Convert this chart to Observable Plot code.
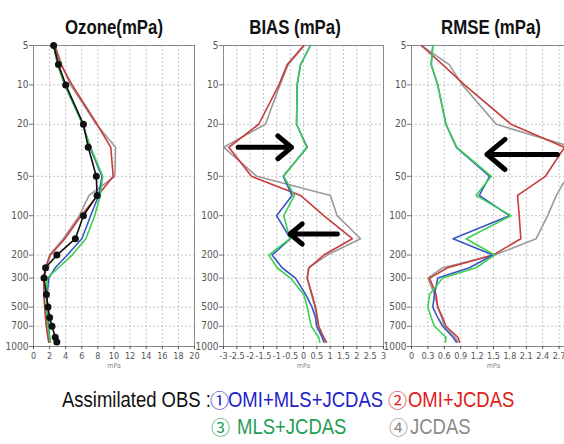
<!DOCTYPE html>
<html>
<head>
<meta charset="utf-8">
<script src="https://cdn.jsdelivr.net/npm/d3@7"></script>
<script src="https://cdn.jsdelivr.net/npm/@observablehq/plot@0.6"></script>
<style>
  html, body { margin: 0; padding: 0; background: #fff; overflow: hidden; }
  #wrap { position: relative; width: 564px; height: 444px; overflow: hidden; background: #fff; }
  .panel { position: absolute; top: 0; }
  .panel svg { max-width: none !important; overflow: visible; }
  .title { position: absolute; top: 17px; font: bold 20px/20px "Liberation Sans", Arial, sans-serif; color: #111; white-space: nowrap; transform: translateX(-50%) scaleX(0.84); transform-origin: center; }
  .leg { position: absolute; font: 22px/22px "Liberation Sans", Arial, sans-serif; white-space: nowrap; transform: scaleX(0.84); transform-origin: left center; }
  .circ { position: absolute; font: 19px/22px "Noto Sans CJK JP", "DejaVu Sans", sans-serif; white-space: nowrap; }
</style>
</head>
<body>
<div id="wrap"></div>
<script>
// ---------- data ----------
const levels = [5, 7, 10, 20, 30, 50, 70, 100, 150, 200, 250, 300, 400, 500, 600, 700, 850, 925];
const pressureTicks = [5, 10, 20, 50, 100, 200, 300, 500, 700, 1000];

const ozoneTicks = [0, 2, 4, 6, 8, 10, 12, 14, 16, 18, 20];
const biasTicks = [-3, -2.5, -2, -1.5, -1, -0.5, 0, 0.5, 1, 1.5, 2, 2.5, 3];
const rmseTicks = [0, 0.3, 0.6, 0.9, 1.2, 1.5, 1.8, 2.1, 2.4, 2.7, 3];

const seriesNames = ["JCDAS", "OMI+JCDAS", "OMI+MLS+JCDAS", "MLS+JCDAS"];
const seriesColors = ["#9a9a9a", "#c83c3c", "#3a56c8", "#3ccf50"];

// Ozone partial pressure (mPa)
const ozoneObs    = [2.5, 3.1, 4.0, 6.2, 6.8, 7.8, 7.9, 6.2, 5.2, 2.9, 1.5, 1.3, 1.6, 1.8, 2.0, 2.3, 2.7, 2.9];
const ozoneOmiMls = [2.5, 3.0, 3.9, 6.1, 7.0, 8.5, 8.1, 7.1, 6.0, 4.2, 2.7, 1.9, 1.7, 1.7, 1.8, 1.9, 2.0, 2.1];
const ozoneOmi    = [2.6, 3.4, 4.8, 7.9, 9.6, 9.9, 8.0, 5.9, 3.9, 2.1, 1.5, 1.3, 1.3, 1.4, 1.5, 1.6, 1.8, 1.9];
const ozoneMls    = [2.5, 3.0, 3.9, 6.1, 7.1, 8.6, 8.3, 7.6, 6.5, 4.8, 3.1, 1.7, 1.6, 1.6, 1.7, 1.8, 2.0, 2.1];
const ozoneJcdas  = [2.7, 3.5, 4.6, 7.8, 10.2, 10.1, 6.9, 5.7, 3.7, 2.0, 1.5, 1.3, 1.3, 1.4, 1.5, 1.6, 1.8, 1.9];

// BIAS (mPa)
const biasOmiMls = [0.26, -0.11, -0.24, -0.26, 0.14, -0.76, -0.43, -1.01, -0.49, -1.18, -0.80, -0.30, 0.08, 0.32, 0.45, 0.49, 0.70, 0.76];
const biasOmi    = [0.01, -0.61, -0.92, -1.68, -2.80, -1.95, -0.11, 0.76, 1.83, 0.76, 0.20, 0.14, 0.32, 0.45, 0.52, 0.57, 0.76, 0.86];
const biasMls    = [0.26, -0.11, -0.24, -0.26, 0.12, -0.74, -0.34, -0.74, -0.51, -1.30, -0.99, -0.49, 0.01, 0.14, 0.22, 0.29, 0.57, 0.61];
const biasJcdas  = [0.03, -0.58, -0.88, -1.43, -2.99, -1.75, 1.01, 1.26, 2.14, 0.89, 0.20, 0.14, 0.30, 0.43, 0.50, 0.55, 0.74, 0.83];

// RMSE (mPa)
const rmseOmiMls = [0.39, 0.36, 0.48, 0.63, 0.82, 1.43, 1.24, 1.79, 0.76, 1.49, 1.06, 0.48, 0.42, 0.39, 0.48, 0.57, 0.76, 0.82];
const rmseOmi    = [0.18, 0.57, 0.97, 1.82, 2.80, 2.45, 1.94, 1.97, 2.00, 1.49, 0.66, 0.33, 0.45, 0.48, 0.57, 0.63, 0.85, 0.88];
const rmseMls    = [0.39, 0.36, 0.48, 0.63, 0.83, 1.46, 1.18, 1.82, 1.00, 1.52, 1.18, 0.57, 0.33, 0.30, 0.36, 0.42, 0.63, 0.62];
const rmseJcdas  = [0.18, 0.69, 0.93, 1.55, 2.95, 2.85, 2.65, 2.49, 2.28, 1.52, 0.57, 0.30, 0.42, 0.48, 0.55, 0.60, 0.80, 0.85];

// annotation arrows (data units: value, hPa)
const biasArrows = [
  {x1: -2.45, x2: -0.45, p: 30},
  {x1: 1.27, x2: -0.50, p: 138}
];
const rmseArrows = [
  {x1: 2.67, x2: 1.38, p: 34}
];

const titles = ["Ozone(mPa)", "BIAS (mPa)", "RMSE (mPa)"];
const legendMarks = ["①", "②", "③", "④"];
const legendLabels = ["OMI+MLS+JCDAS", "OMI+JCDAS", "MLS+JCDAS", "JCDAS"];
const legendColors = ["#1f22c8", "#e0201a", "#1e9e55", "#8a8a8a"];

// ---------- helpers ----------
function toRows(arrays) {
  return arrays.flatMap((arr, i) => arr.map((v, j) => ({s: seriesNames[i], v, p: levels[j]})));
}

const font = "'DejaVu Sans Condensed', 'DejaVu Sans', sans-serif";

function panel({xDomain, xTicks, rows, width, marginRight, obs, arrows}) {
  const marginLeft = 33;
  const frameW = width - marginLeft - marginRight;
  const marks = [
    Plot.gridX(xTicks, {stroke: "#c4c4c4", strokeOpacity: 1, strokeDasharray: "2,2"}),
    Plot.ruleY(pressureTicks, {y: d => d, stroke: "#c4c4c4", strokeDasharray: "2,2"}),
    Plot.frame({stroke: "#8a8a8a"}),
    Plot.ruleY(pressureTicks, {y: d => d, stroke: "#777", insetLeft: -4, insetRight: frameW}),
    Plot.text(pressureTicks, {y: d => d, text: d => String(d), frameAnchor: "left", textAnchor: "end", dx: -5, fontSize: 10, fill: "#555"}),
    Plot.axisX(xTicks, {tickFormat: d => String(d), tickSize: 3, tickPadding: 3, fontSize: 9, color: "#555", label: null}),
    Plot.text(["mPa"], {text: d => d, frameAnchor: "bottom", dy: 21, fontSize: 7, fill: "#888"}),
    Plot.line(rows, {x: "v", y: "p", z: "s", stroke: "s", strokeWidth: 1.6})
  ];
  if (obs) {
    const obsRows = obs.map((v, j) => ({v, p: levels[j]}));
    marks.push(Plot.line(obsRows, {x: "v", y: "p", stroke: "#111", strokeWidth: 1.6}));
    marks.push(Plot.dot(obsRows, {x: "v", y: "p", r: 3.5, fill: "#111", stroke: "none"}));
  }
  if (arrows) {
    marks.push(Plot.arrow(arrows, {x1: "x1", x2: "x2", y1: "p", y2: "p", stroke: "#000", strokeWidth: 5, headLength: 13, headAngle: 80}));
  }
  return Plot.plot({
    width, height: 375,
    marginTop: 45, marginBottom: 29, marginLeft, marginRight,
    style: {background: "transparent", fontFamily: font, overflow: "visible"},
    x: {domain: xDomain, axis: null},
    y: {type: "log", domain: [5, 1000], reverse: true, axis: null},
    color: {domain: seriesNames, range: seriesColors},
    marks
  });
}

const wrap = document.getElementById("wrap");

const panels = [
  {left: 0, opts: {xDomain: [0, 20], xTicks: ozoneTicks, width: 206, marginRight: 12,
    rows: toRows([ozoneJcdas, ozoneOmi, ozoneOmiMls, ozoneMls]), obs: ozoneObs}},
  {left: 190, opts: {xDomain: [-3, 3], xTicks: biasTicks, width: 205, marginRight: 12,
    rows: toRows([biasJcdas, biasOmi, biasOmiMls, biasMls]), arrows: biasArrows}},
  {left: 378, opts: {xDomain: [0, 3], xTicks: rmseTicks, width: 197, marginRight: 0,
    rows: toRows([rmseJcdas, rmseOmi, rmseOmiMls, rmseMls]), arrows: rmseArrows}}
];

panels.forEach(({left, opts}) => {
  const d = document.createElement("div");
  d.className = "panel";
  d.style.left = left + "px";
  d.appendChild(panel(opts));
  wrap.appendChild(d);
});

// titles
const titleCenters = [114, 295, 491];
titles.forEach((t, i) => {
  const d = document.createElement("div");
  d.className = "title";
  d.style.left = titleCenters[i] + "px";
  d.textContent = t;
  wrap.appendChild(d);
});

// legend
function legPiece(text, color, left, top, cls) {
  const d = document.createElement("div");
  d.className = cls;
  d.style.left = left + "px";
  d.style.top = top + "px";
  d.style.color = color;
  d.textContent = text;
  wrap.appendChild(d);
}
legPiece("Assimilated OBS :", "#111", 62, 389, "leg");
const legPos = [
  {mark: 210, text: 228, top: 389},
  {mark: 388, text: 408, top: 389},
  {mark: 211, text: 237, top: 416},
  {mark: 389, text: 410, top: 416}
];
legendLabels.forEach((lab, i) => {
  legPiece(legendMarks[i], legendColors[i], legPos[i].mark, legPos[i].top, "circ");
  legPiece(lab, legendColors[i], legPos[i].text, legPos[i].top, "leg");
});
</script>
</body>
</html>
